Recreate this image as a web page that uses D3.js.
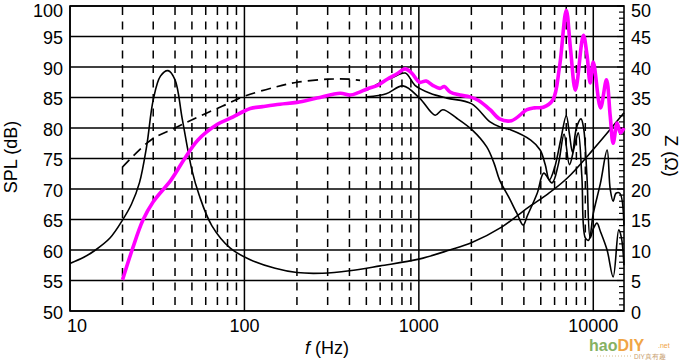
<!DOCTYPE html>
<html><head><meta charset="utf-8">
<script src="https://cdn.jsdelivr.net/npm/d3@7"></script>
<style>body{margin:0;background:#fff}svg{display:block}</style>
</head><body>
<svg id="c" width="680" height="360"></svg>
<script>
// ---- data ----
const splTicks = [50,55,60,65,70,75,80,85,90,95,100];
const zTicks = [0,5,10,15,20,25,30,35,40,45,50];
const freqTicks = [10,100,1000,10000];
const minorFreq = [20,30,40,50,60,70,80,90,200,300,400,500,600,700,800,900,2000,3000,4000,5000,6000,7000,8000,9000];

const impF = [10,12,14,17,20,22.5,25,27.5,30,33,36.5,40,44,50,55,65,83,108,150,200,280,400,600,1000,1500,2000,3000,4200,5500,7100,10000,15000];
const impZ = [7.8,8.8,10,12,14.9,17.5,21,27,34.6,38.5,39.4,37.9,31.5,23.1,19,14,10.3,8.4,7,6.3,6.2,6.6,7.4,8.5,10,11.2,13.8,16.9,19.2,21.8,26.5,32.5];

const simF = [20,29,40,54,75,100,150,200,300,400,460];
const simSPL = [73.6,78.0,80.0,81.8,83.6,85.2,86.7,87.5,88.0,88.0,87.8];

const magF = [20,22.7,26.2,30,38,45,54,70,83,108,127,160,200,260,354,404,450,505,580,658,750,836,910,1010,1100,1200,1320,1400,1510,1720,1960,2200,2560,2900,3400,4170,4600,5170,5860,6400,7000,7400,7900,8770,9200,9600,10000,11000,11900,12500,13000,13700,14300,15000];
const magSPL = [55.1,60,64.9,67.9,71.5,74.8,78,80.6,81.6,83.2,83.5,83.9,84.2,84.9,85.7,85.4,85.8,86.4,87.0,88.0,88.9,89.7,89.0,87.5,87.7,87.0,86.5,86.8,85.9,85.4,85.1,84.5,83.0,81.5,81.2,83.0,83.3,83.4,84.6,90.0,99.3,93,86.2,95.2,92,87.4,90.8,83.3,87.9,82,77.5,80.8,79.2,80.0];

const upF = [505,596,700,836,950,1160,1450,2000,2560,2900,3350,4380,4960,5300,5600,6000,6500,7000,7300,7600,8000,8500,8800,9200,9600,10000,10500,11000,12000,13000,14000,14500,15000];
const upSPL = [86.2,87.4,88.2,89.0,87.0,85.7,84.9,84.0,81.0,80.2,79.7,78.0,76.4,74,71.5,73.5,78,82,79,76,80,81.5,80,72,62,63.5,64.4,63,60,55.6,63.3,62,57.5];

const loF = [505,650,810,1010,1240,1370,1650,2020,2450,2700,2900,3300,3650,3960,4200,4770,5200,5800,6300,6800,7300,7800,8200,8600,9000,9400,10000,11000,12000,12500,13000,13500,14200,15000];
const loSPL = [85.1,85.6,86.9,84.9,82.1,83.0,81.6,79.7,76.9,74.2,71.5,68.5,66,64.1,65.7,69.3,72.6,71,74,79,74,77,79.2,72,62,61.6,66,71,76.4,70,68,69.3,69.3,64];

// ---- chart ----
const svg = d3.select('#c');
const L = 70, R = 624, T = 6, B = 311;
const x = d3.scaleLog().domain([10,15000]).range([L,R]);
const y = d3.scaleLinear().domain([50,100]).range([B,T]);
const yz = d3.scaleLinear().domain([0,50]).range([B,T]);
const font = 'Liberation Sans, Arial, sans-serif';

const g = svg.append('g');
g.selectAll('.hg').data(splTicks).join('line')
  .attr('x1',L).attr('x2',R).attr('y1',d=>y(d)).attr('y2',d=>y(d))
  .attr('stroke','#000').attr('stroke-width',1.3);
g.selectAll('.vd').data(minorFreq).join('line')
  .attr('x1',d=>x(d)).attr('x2',d=>x(d)).attr('y1',T+1).attr('y2',B)
  .attr('stroke','#000').attr('stroke-width',1.5).attr('stroke-dasharray','8,6.5');
g.selectAll('.vs').data(freqTicks).join('line')
  .attr('x1',d=>x(d)).attr('x2',d=>x(d)).attr('y1',T).attr('y2',B)
  .attr('stroke','#000').attr('stroke-width',1.5);
g.append('rect').attr('x',L).attr('y',T).attr('width',R-L).attr('height',B-T)
  .attr('fill','none').attr('stroke','#000').attr('stroke-width',1.6);
const zMinor = d3.range(0,51);
g.selectAll('.zt').data(zMinor).join('line')
  .attr('x1',R).attr('x2',d=>R-(d%5===0?7:5)).attr('y1',d=>yz(d)).attr('y2',d=>yz(d))
  .attr('stroke','#000').attr('stroke-width',1.2);

const line = (fs, vs, sc) => d3.line().curve(d3.curveCatmullRom.alpha(0.5))
  .x((d,i)=>x(fs[i])).y((d,i)=>sc(vs[i]))(fs);
svg.append('clipPath').attr('id','pc').append('rect')
  .attr('x',L).attr('y',T-4).attr('width',R-L+2).attr('height',B-T+8);
const cg = svg.append('g').attr('clip-path','url(#pc)');
cg.append('path').attr('d',line(impF,impZ,yz)).attr('fill','none').attr('stroke','#000').attr('stroke-width',1.6);
cg.append('path').attr('d',line(simF,simSPL,y)).attr('fill','none').attr('stroke','#000').attr('stroke-width',1.7).attr('stroke-dasharray','10,6');
cg.append('path').attr('d',line(loF,loSPL,y)).attr('fill','none').attr('stroke','#000').attr('stroke-width',1.6);
cg.append('path').attr('d',line(upF,upSPL,y)).attr('fill','none').attr('stroke','#000').attr('stroke-width',1.6);
cg.append('path').attr('d',line(magF,magSPL,y)).attr('fill','none').attr('stroke','#ff00ff').attr('stroke-width',3.6).attr('stroke-linejoin','round');

svg.selectAll('.yl').data(splTicks).join('text')
  .attr('x',63).attr('y',d=>Math.max(y(d)+7.5,16.6)).attr('text-anchor','end')
  .attr('font-family',font).attr('font-size',18).text(d=>d);
svg.selectAll('.zl').data(zTicks).join('text')
  .attr('x',631).attr('y',d=>Math.max(yz(d)+7.5,16.6)).attr('text-anchor','start')
  .attr('font-family',font).attr('font-size',18).text(d=>d);
svg.selectAll('.xl').data(freqTicks).join('text')
  .attr('x',d=>d===10?77:x(d)).attr('y',332).attr('text-anchor','middle')
  .attr('font-family',font).attr('font-size',18).text(d=>d);

const xt = svg.append('text').attr('x',327).attr('y',354).attr('text-anchor','middle')
  .attr('font-family',font).attr('font-size',18);
xt.append('tspan').attr('font-style','italic').text('f');
xt.append('tspan').text(' (Hz)');
svg.append('text').attr('transform','translate(17,157) rotate(-90)').attr('text-anchor','middle')
  .attr('font-family',font).attr('font-size',18).text('SPL (dB)');
svg.append('text').attr('transform','translate(665,156) rotate(90)').attr('text-anchor','middle')
  .attr('font-family',font).attr('font-size',18).text('Z (Ω)');

// watermark
const wm = svg.append('text').attr('x',589).attr('y',351).attr('font-family',font).attr('font-weight','bold').attr('font-size',16);
wm.append('tspan').attr('fill','#86b163').text('hao');
wm.append('tspan').attr('fill','#f0a545').text('DIY');
svg.append('text').attr('x',658).attr('y',348).attr('font-family',font).attr('font-size',7).attr('fill','#f0a545').text('.net');
svg.append('text').attr('x',634).attr('y',359).attr('font-family',font).attr('font-size',6.5).attr('fill','#c9a070').text('DIY真有趣');
svg.append('line').attr('x1',597).attr('x2',631).attr('y1',356).attr('y2',356).attr('stroke','#d8c090').attr('stroke-dasharray','1,2');
</script>
</body></html>
